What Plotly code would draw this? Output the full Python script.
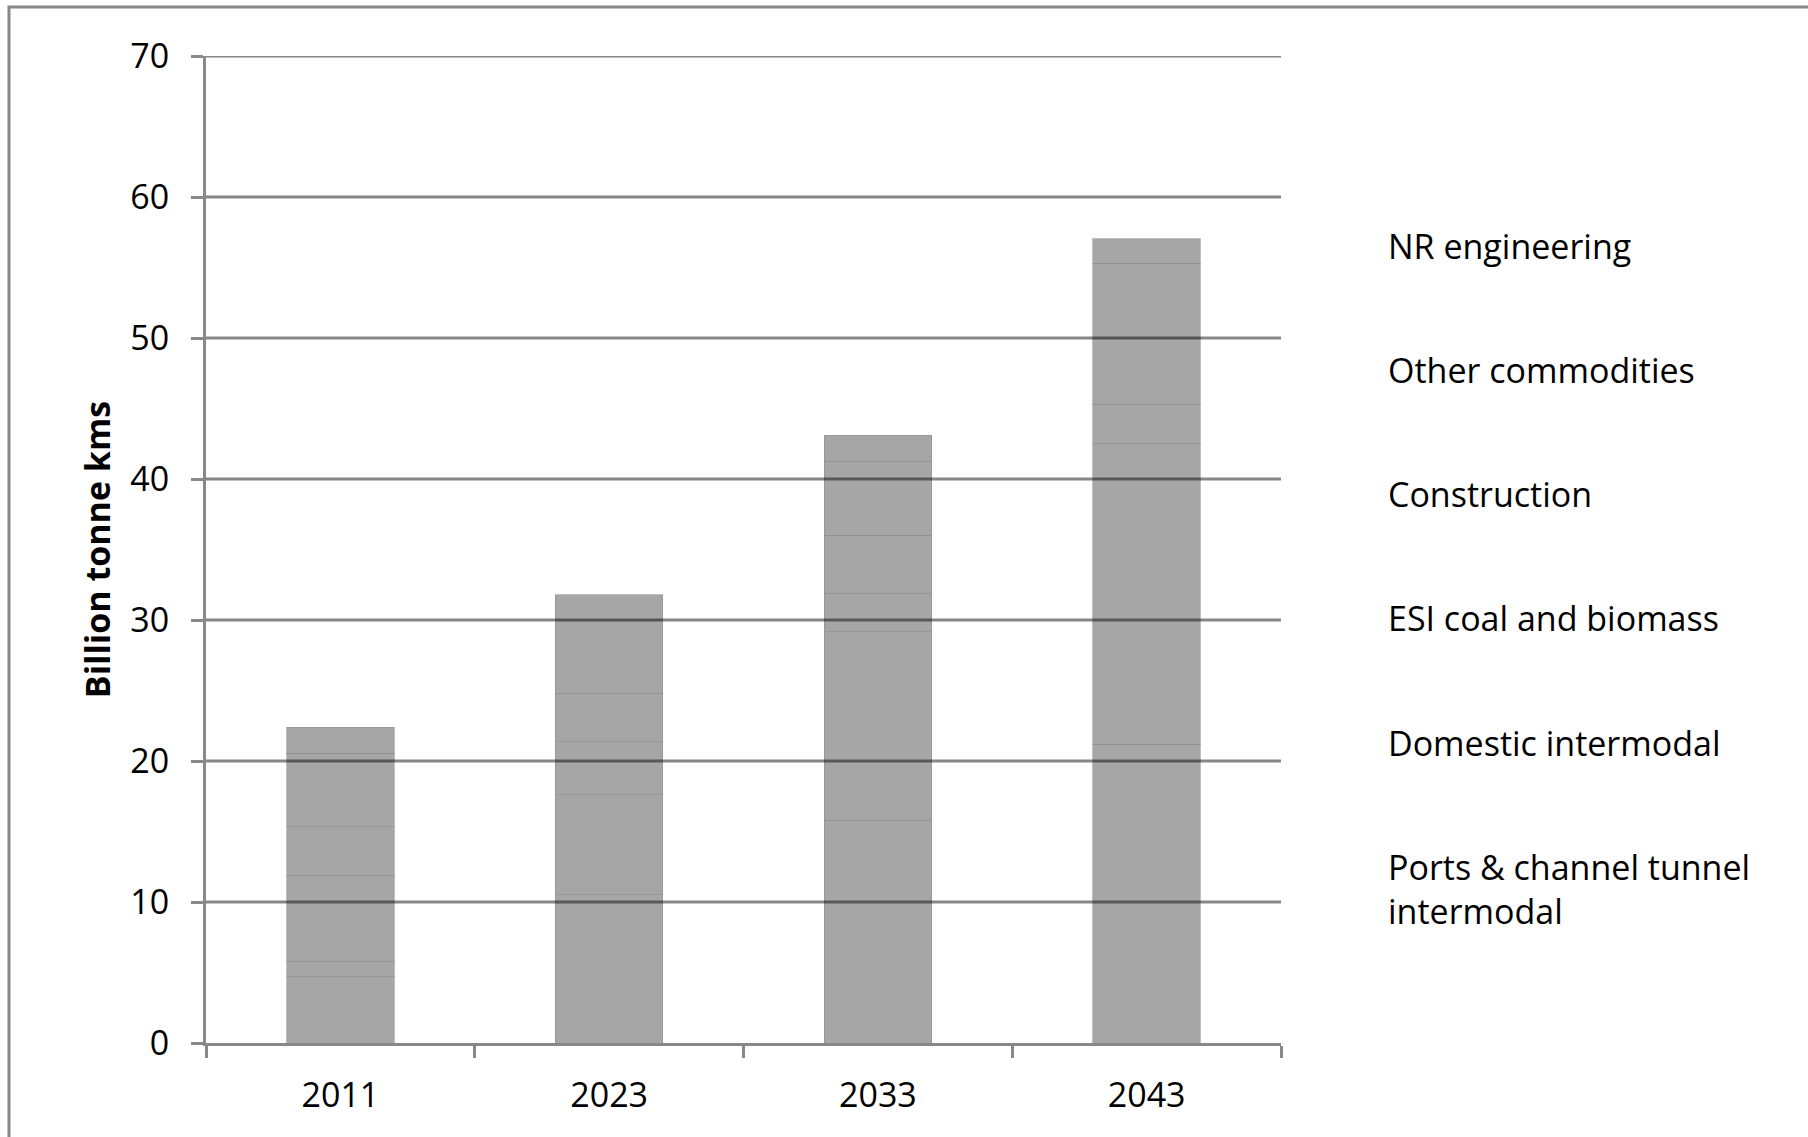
import plotly.graph_objects as go

# ---- data ----
categories = ["2011", "2023", "2033", "2043"]
ports_channel_tunnel = [4.7, 10.5, 15.8, 21.2]
domestic_intermodal = [1.1, 7.1, 13.35, 21.3]
esi_coal_biomass = [6.1, 3.75, 2.75, 2.8]
construction = [3.45, 3.45, 4.1, 4.7]
other_commodities = [5.2, 5.2, 5.26, 5.3]
nr_engineering = [1.85, 1.8, 1.84, 1.75]

series_names = [
    "Ports & channel tunnel<br>intermodal",
    "Domestic intermodal",
    "ESI coal and biomass",
    "Construction",
    "Other commodities",
    "NR engineering",
]
series_values = [
    ports_channel_tunnel,
    domestic_intermodal,
    esi_coal_biomass,
    construction,
    other_commodities,
    nr_engineering,
]
y_ticks = [0, 10, 20, 30, 40, 50, 60, 70]
y_title = "Billion tonne kms"

W, H = 1808, 1137
L, R, T, B = 206, 527, 56, 94
FONT = "Open Sans"
FS = 34
GRID = "rgba(0,0,0,0.47)"
AXC = "#888888"

fig = go.Figure()

# stacked bars (bottom to top)
for name, vals in zip(series_names, series_values):
    fig.add_trace(go.Bar(
        x=categories, y=vals, name=name, showlegend=False,
        marker=dict(color="#a6a6a6",
                    line=dict(color="rgba(140,140,140,0.55)", width=1)),
    ))

# text-only legend entries (top of stack first)
for i, name in enumerate(reversed(series_names)):
    fig.add_trace(go.Scatter(
        x=[None], y=[None], mode="lines", name=name,
        legendgroup="g%d" % i,
        line=dict(color="rgba(0,0,0,0)", width=0),
    ))

# gridlines above bars
for v in y_ticks[1:]:
    fig.add_shape(type="line", xref="paper", x0=0, x1=1, yref="y", y0=v, y1=v,
                  line=dict(color=GRID, width=3), layer="above")

# outer frame
pw = W - L - R
ph = H - T - B
fig.add_shape(type="rect", xref="paper", yref="paper",
              x0=(9 - L) / pw, x1=(W + 20 - L) / pw,
              y0=(H - B - 7) / ph, y1=-0.3,
              line=dict(color=AXC, width=3), fillcolor="rgba(0,0,0,0)", layer="below")

fig.update_layout(
    width=W, height=H,
    margin=dict(l=L, r=R, t=T, b=B, pad=0),
    paper_bgcolor="white", plot_bgcolor="white",
    barmode="stack", bargap=0.6,
    font=dict(family=FONT, size=FS, color="black"),
    legend=dict(
        x=(1348 - L) / pw, xanchor="left",
        y=(H - B - 217) / ph, yanchor="top",
        bgcolor="rgba(0,0,0,0)", borderwidth=0,
        itemwidth=30, tracegroupgap=77,
        font=dict(family=FONT, size=FS, color="black"),
    ),
    xaxis=dict(
        type="category", tickson="boundaries",
        ticks="outside", ticklen=12, tickwidth=3, tickcolor=AXC,
        showline=True, linecolor=AXC, linewidth=3, showgrid=False,
        ticklabelstandoff=20, layer="above traces",
    ),
    yaxis=dict(
        range=[0, 70], tickvals=y_ticks,
        ticks="outside", ticklen=12, tickwidth=3, tickcolor=AXC,
        showline=True, linecolor=AXC, linewidth=3, showgrid=False,
        zeroline=False, ticklabelstandoff=15, layer="above traces",
        title=dict(text="<b>" + y_title + "</b>", standoff=10,
                   font=dict(family=FONT, size=FS, color="black")),
    ),
)

fig.write_html("out.html", config={"displayModeBar": False},
               post_script="document.body.style.margin='0';")
